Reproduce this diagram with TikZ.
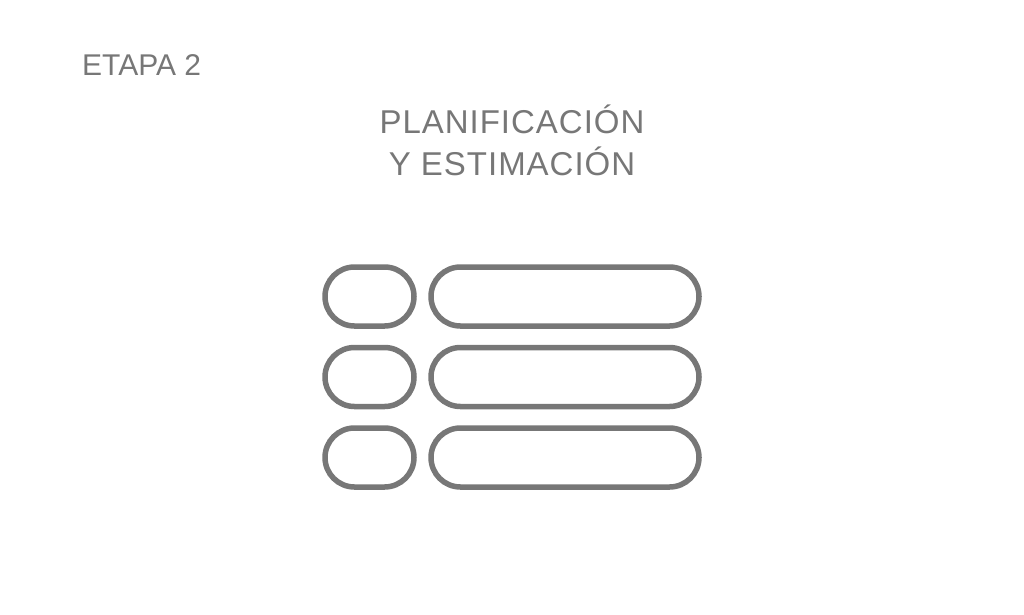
\documentclass[tikz,border=0pt]{standalone}
\usepackage{fontspec}
\setmainfont{Liberation Sans}
\newfontfamily\titlefont[LetterSpace=3]{Liberation Sans}
\definecolor{stagegray}{HTML}{777777}
\tikzset{
  pill/.style={draw=stagegray, line width=5.5pt, rounded corners=29.5pt,
    minimum height=59pt, inner sep=0pt},
  shortpill/.style={pill, minimum width=89pt},
  longpill/.style={pill, minimum width=268pt},
  label/.style={text=stagegray, inner sep=0pt, font=\fontsize{30}{36}\selectfont},
  heading/.style={label, font=\titlefont\fontsize{33}{38}\selectfont}
}
\begin{document}
\begin{tikzpicture}[x=1pt,y=-1pt]
\useasboundingbox (0,0) rectangle (1024,614);
\node[label, anchor=base west] (stage) at (82,75.5) {ETAPA 2};
\node[heading, anchor=base] (title1) at (512,133.5) {PLANIFICACIÓN};
\node[heading, anchor=base] (title2) at (512,175) {Y ESTIMACIÓN};
\node[shortpill] (s1) at (369.5,296.5) {};
\node[longpill] (l1) at (565,296.5) {};
\node[shortpill] (s2) at (369.5,377) {};
\node[longpill] (l2) at (565,377) {};
\node[shortpill] (s3) at (369.5,457.5) {};
\node[longpill] (l3) at (565,457.5) {};
\end{tikzpicture}
\end{document}
